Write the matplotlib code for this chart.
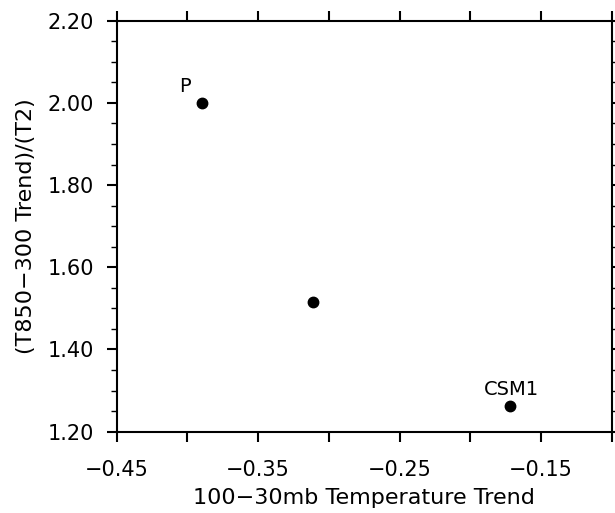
import matplotlib
matplotlib.use("Agg")
import matplotlib.pyplot as plt
import numpy as np
from matplotlib.ticker import MultipleLocator, FixedLocator

# model points
x_trend = [-0.390, -0.311, -0.172]
y_ratio = [2.000, 1.515, 1.263]
names = ["P", "", "CSM1"]

x_ticks = [-0.45, -0.40, -0.35, -0.30, -0.25, -0.20, -0.15, -0.10]
x_labels = ["\u22120.45", "", "\u22120.35", "", "\u22120.25", "", "\u22120.15", ""]
y_ticks = [1.20, 1.40, 1.60, 1.80, 2.00, 2.20]
y_labels = ["1.20", "1.40", "1.60", "1.80", "2.00", "2.20"]

fig = plt.figure(figsize=(6.15, 5.13), dpi=100)
ax = fig.add_axes([0.1898, 0.1585, 0.8048, 0.8012])

ax.plot(x_trend, y_ratio, "o", color="black", markersize=7.5, linestyle="none")
for xx, yy, nm in zip(x_trend, y_ratio, names):
    if nm == "P":
        ax.annotate(nm, (xx, yy), xytext=(-12, 12), textcoords="offset points",
                    ha="center", va="center", fontsize=14)
    elif nm:
        ax.annotate(nm, (xx, yy), xytext=(1, 12), textcoords="offset points",
                    ha="center", va="center", fontsize=14)

ax.set_xlim(-0.45, -0.10)
ax.set_ylim(1.20, 2.20)
ax.xaxis.set_major_locator(FixedLocator(x_ticks))
ax.set_xticklabels(x_labels)
ax.yaxis.set_major_locator(FixedLocator(y_ticks))
ax.set_yticklabels(y_labels)
ax.yaxis.set_minor_locator(MultipleLocator(0.05))

ax.tick_params(axis="both", which="major", direction="out", length=7.5, width=1.5,
               labelsize=15, top=True, right=True)
ax.tick_params(axis="x", which="major", pad=13)
ax.tick_params(axis="y", which="major", pad=9)
ax.tick_params(axis="y", which="minor", direction="out", length=4.5, width=1.0,
               right=True)
for s in ax.spines.values():
    s.set_linewidth(1.5)

ax.set_xlabel("100\u221230mb Temperature Trend", fontsize=16, labelpad=6)
ax.set_ylabel("(T850\u2212300 Trend)/(T2)", fontsize=16, labelpad=8)

fig.savefig("out.png", dpi=100)
